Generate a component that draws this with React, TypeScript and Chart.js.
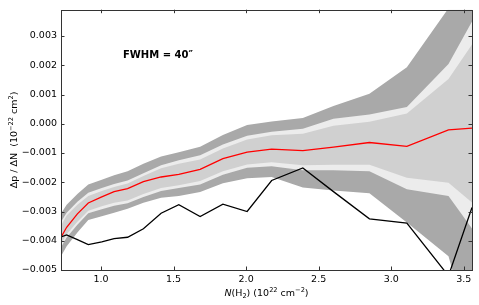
import React, { useEffect, useRef } from "react";
import { Chart, registerables } from "chart.js";

Chart.register(...registerables);

// Column density bins, N(H2) in 1e22 cm^-2
const nH2 = [0.724, 0.763, 0.837, 0.912, 1.005, 1.09, 1.183, 1.292, 1.414, 1.536, 1.683, 1.84, 2.007, 2.176, 2.391, 2.602, 2.85, 3.108, 3.395, 3.557];

// Red curve (mean of models)
const meanSlope = [-0.00388, -0.00354, -0.00308, -0.00271, -0.0025, -0.00232, -0.00222, -0.00198, -0.00182, -0.00173, -0.00156, -0.00119, -0.00097, -0.00087, -0.00092, -0.0008, -0.00064, -0.00077, -0.00021, -0.00015];

// Black curve (observed)
const observedSlope = [-0.00387, -0.0038, -0.00396, -0.00413, -0.00404, -0.00393, -0.00388, -0.00359, -0.00306, -0.00277, -0.00317, -0.00275, -0.003, -0.00194, -0.00151, -0.00232, -0.00325, -0.0034, -0.0052, -0.00286];

// Outer (dark grey) band
const outerUpper = [-0.00307, -0.00277, -0.0024, -0.00208, -0.00191, -0.00176, -0.00162, -0.00137, -0.00112, -0.00097, -0.00079, -0.00038, -0.00004, 0.00008, 0.0002, 0.00061, 0.00103, 0.00193, 0.00395, 0.0051];
const outerLower = [-0.00453, -0.00419, -0.00372, -0.00329, -0.00316, -0.00304, -0.00291, -0.0027, -0.00253, -0.00247, -0.00233, -0.00203, -0.00186, -0.00182, -0.00218, -0.00228, -0.00238, -0.00338, -0.00453, -0.00737];

// Middle (very light) band
const stripUpper = [-0.00335, -0.00304, -0.00267, -0.00236, -0.0022, -0.00206, -0.00194, -0.00169, -0.00142, -0.00125, -0.00108, -0.00071, -0.00041, -0.00027, -0.00017, 0.00017, 0.00032, 0.00057, 0.00204, 0.0035];
const stripLower = [-0.00422, -0.00389, -0.00345, -0.00306, -0.00292, -0.0028, -0.00272, -0.0025, -0.0023, -0.0022, -0.00208, -0.00174, -0.0015, -0.00145, -0.00159, -0.00159, -0.00162, -0.00224, -0.00247, -0.00358];

// Inner (light grey) band
const innerUpper = [-0.00348, -0.00314, -0.00277, -0.00247, -0.0023, -0.00216, -0.00204, -0.00179, -0.00152, -0.00137, -0.00122, -0.00085, -0.00054, -0.00039, -0.00034, -0.00007, 0.00007, 0.00035, 0.00153, 0.00271];
const innerLower = [-0.00409, -0.00378, -0.00335, -0.00297, -0.00282, -0.0027, -0.00262, -0.0024, -0.0022, -0.0021, -0.00196, -0.00162, -0.00139, -0.00132, -0.00142, -0.0014, -0.0014, -0.00185, -0.00202, -0.00269];

const xTicks = [1.0, 1.5, 2.0, 2.5, 3.0, 3.5];
const yTicks = [-0.005, -0.004, -0.003, -0.002, -0.001, 0.0, 0.001, 0.002, 0.003];

const FONT = "'DejaVu Sans', sans-serif";

type Run = { t: string; italic?: boolean; sup?: boolean; sub?: boolean };

function drawRuns(ctx: CanvasRenderingContext2D, runs: Run[], cx: number, baseY: number, size: number) {
  const items = runs.map((r) => {
    const s = r.sup || r.sub ? size * 0.7 : size;
    const font = `${r.italic ? "italic " : ""}${s}px ${FONT}`;
    ctx.font = font;
    return { ...r, font, w: ctx.measureText(r.t).width };
  });
  const total = items.reduce((a, b) => a + b.w, 0);
  let x = cx - total / 2;
  ctx.textAlign = "left";
  ctx.textBaseline = "alphabetic";
  for (const it of items) {
    ctx.font = it.font;
    const dy = it.sup ? -size * 0.4 : it.sub ? size * 0.22 : 0;
    ctx.fillText(it.t, x, baseY + dy);
    x += it.w;
  }
}

const pts = (ys: number[]) => nH2.map((x, i) => ({ x, y: ys[i] }));

const framePlugin = {
  id: "frameAndLabels",
  afterDraw(chart: any) {
    const { ctx, chartArea: a, scales } = chart;
    ctx.save();
    // inward ticks
    ctx.strokeStyle = "#333";
    ctx.lineWidth = 1;
    const tl = 3.5;
    ctx.beginPath();
    for (const v of xTicks) {
      const px = Math.round(scales.x.getPixelForValue(v)) + 0.5;
      ctx.moveTo(px, a.bottom);
      ctx.lineTo(px, a.bottom - tl);
      ctx.moveTo(px, a.top);
      ctx.lineTo(px, a.top + tl);
    }
    for (const v of yTicks) {
      const py = Math.round(scales.y.getPixelForValue(v)) + 0.5;
      ctx.moveTo(a.left, py);
      ctx.lineTo(a.left + tl, py);
      ctx.moveTo(a.right, py);
      ctx.lineTo(a.right - tl, py);
    }
    ctx.stroke();
    // frame
    ctx.strokeStyle = "#333";
    ctx.strokeRect(Math.round(a.left) + 0.5, Math.round(a.top) + 0.5, Math.round(a.right - a.left), Math.round(a.bottom - a.top));

    ctx.fillStyle = "#000";
    // x title
    drawRuns(
      ctx,
      [
        { t: "N", italic: true },
        { t: "(H" },
        { t: "2", sub: true },
        { t: ") (10" },
        { t: "22", sup: true },
        { t: " cm" },
        { t: "\u22122", sup: true },
        { t: ")" },
      ],
      (a.left + a.right) / 2,
      295.5,
      9.5
    );
    // y title
    ctx.save();
    ctx.translate(16.5, (a.top + a.bottom) / 2);
    ctx.rotate(-Math.PI / 2);
    drawRuns(
      ctx,
      [
        { t: "\u0394p / \u0394N  (10" },
        { t: "\u221222", sup: true },
        { t: " cm" },
        { t: "2", sup: true },
        { t: ")" },
      ],
      0,
      0,
      9.5
    );
    ctx.restore();
    // annotation
    ctx.font = `600 10px ${FONT}`;
    ctx.textAlign = "left";
    ctx.textBaseline = "middle";
    ctx.fillText("FWHM = 40\u2033", 123, 55);
    ctx.restore();
  },
};

export default function App() {
  const ref = useRef<HTMLCanvasElement>(null);
  useEffect(() => {
    document.body.style.margin = "0";
    const canvas = ref.current!;
    const band = (data: number[], color: string, target: number | false, order: number) => ({
      data: pts(data),
      borderWidth: 0,
      pointRadius: 0,
      backgroundColor: color,
      borderColor: color,
      fill: target === false ? false : { target },
      order,
      tension: 0,
    });
    const chart = new Chart(canvas, {
      type: "line",
      data: {
        datasets: [
          band(outerUpper, "#a9a9a9", 1, 6),
          band(outerLower, "#a9a9a9", false, 6),
          band(stripUpper, "#ececec", 3, 5),
          band(stripLower, "#ececec", false, 5),
          band(innerUpper, "#d0d0d0", 5, 4),
          band(innerLower, "#d0d0d0", false, 4),
          {
            data: pts(meanSlope),
            borderColor: "#ff0000",
            borderWidth: 1.3,
            pointRadius: 0,
            fill: false,
            order: 1,
          },
          {
            data: pts(observedSlope),
            borderColor: "#000000",
            borderWidth: 1.3,
            pointRadius: 0,
            fill: false,
            order: 0,
          },
        ] as any,
      },
      options: {
        animation: false,
        responsive: false,
        devicePixelRatio: 1,
        layout: { padding: { top: 6, right: 7, left: 0, bottom: 0 } },
        plugins: { legend: { display: false }, tooltip: { enabled: false } },
        scales: {
          x: {
            type: "linear",
            min: 0.724,
            max: 3.557,
            grid: { display: false, drawTicks: false },
            border: { display: false },
            afterBuildTicks: (s: any) => {
              s.ticks = xTicks.map((v) => ({ value: v }));
            },
            afterFit: (s: any) => {
              s.height = 35;
            },
            ticks: {
              autoSkip: false,
              maxRotation: 0,
              padding: 4,
              color: "#000",
              font: { family: FONT, size: 9.5 },
              callback: (v: any) => Number(v).toFixed(1),
            },
          },
          y: {
            type: "linear",
            min: -0.005,
            max: 0.0039,
            grid: { display: false, drawTicks: false },
            border: { display: false },
            afterBuildTicks: (s: any) => {
              s.ticks = yTicks.map((v) => ({ value: v }));
            },
            afterFit: (s: any) => {
              s.width = 61;
            },
            ticks: {
              autoSkip: false,
              padding: 4,
              color: "#000",
              font: { family: FONT, size: 9.5 },
              callback: (v: any) => {
                const n = Number(v);
                return Math.abs(n) < 1e-12 ? "0.000" : n.toFixed(3).replace("-", "\u2212");
              },
            },
          },
        },
      } as any,
      plugins: [framePlugin],
    });
    return () => chart.destroy();
  }, []);
  return (
    <div style={{ width: 479, height: 305 }}>
      <canvas ref={ref} width={479} height={305} />
    </div>
  );
}
